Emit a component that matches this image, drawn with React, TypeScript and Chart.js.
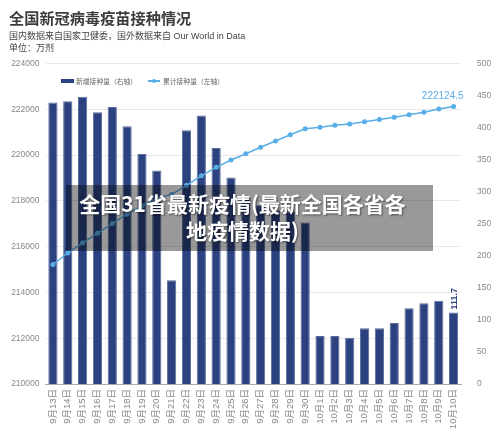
import React, { useEffect, useRef } from "react";
import { Chart, registerables } from "chart.js";

Chart.register(...registerables);

const categories = [
  "9月13日", "9月14日", "9月15日", "9月16日", "9月17日", "9月18日", "9月19日",
  "9月20日", "9月21日", "9月22日", "9月23日", "9月24日", "9月25日", "9月26日",
  "9月27日", "9月28日", "9月29日", "9月30日", "10月1日", "10月2日", "10月3日",
  "10月4日", "10月5日", "10月6日", "10月7日", "10月8日", "10月9日", "10月10日",
];

// 新增接种量（右轴），万剂
const newDoses = [
  439, 441, 448, 424, 432, 402, 359, 333, 162, 396, 419, 368, 322, 292,
  279, 271, 269, 252, 75, 75, 72, 87, 87, 95, 118, 126, 130, 111.7,
];

// 累计接种量（左轴），万剂
const cumulative = [
  215220, 215721, 216169, 216580, 217010, 217420, 217786, 218119, 218281,
  218672, 219096, 219464, 219786, 220060, 220341, 220614, 220885, 221150,
  221215, 221300, 221360, 221460, 221550, 221650, 221760, 221875, 222013, 222124.5,
];

const leftTicks = { min: 210000, max: 224000, step: 2000 };
const rightTicks = { min: 0, max: 500, step: 50 };

const NAVY = "#2c4180";
const BLUE = "#5aaee8";
const TICK_FONT = "'Liberation Sans', 'Noto Sans CJK SC', sans-serif";
const CJK = "'Noto Sans CJK SC', 'Liberation Sans', sans-serif";
const SUB_FONT = "'Liberation Sans', 'Noto Sans CJK SC', sans-serif";

const labelPlugin = {
  id: "valueLabels",
  afterDatasetsDraw(chart: any) {
    const ctx = chart.ctx;
    const lineMeta = chart.getDatasetMeta(1);
    const barMeta = chart.getDatasetMeta(0);
    const li = cumulative.length - 1;
    const pt = lineMeta.data[li];
    ctx.save();
    ctx.font = `10px ${TICK_FONT}`;
    ctx.fillStyle = BLUE;
    ctx.textAlign = "right";
    ctx.textBaseline = "middle";
    ctx.fillText(String(cumulative[li]), pt.x + 10, pt.y - 10);
    const bi = newDoses.length - 1;
    const bar = barMeta.data[bi];
    ctx.translate(bar.x + 0.5, bar.y - 3);
    ctx.rotate(-Math.PI / 2);
    ctx.font = `bold 9px ${TICK_FONT}`;
    ctx.fillStyle = NAVY;
    ctx.textAlign = "left";
    ctx.textBaseline = "middle";
    ctx.fillText(String(newDoses[bi]), 0, 0);
    ctx.restore();
  },
};

function ChartCanvas() {
  const ref = useRef<HTMLCanvasElement | null>(null);
  useEffect(() => {
    if (!ref.current) return;
    const chart = new Chart(ref.current, {
      type: "bar",
      data: {
        labels: categories,
        datasets: [
          {
            type: "bar",
            label: "新增接种量（右轴）",
            data: newDoses,
            yAxisID: "yR",
            backgroundColor: NAVY,
            borderColor: "#5b6c9c",
            borderWidth: 1,
            barPercentage: 0.62,
            categoryPercentage: 1,
            order: 2,
          } as any,
          {
            type: "line",
            label: "累计接种量（左轴）",
            data: cumulative,
            yAxisID: "yL",
            borderColor: BLUE,
            backgroundColor: BLUE,
            borderWidth: 1.5,
            pointRadius: 2.5,
            pointBackgroundColor: BLUE,
            pointBorderWidth: 0,
            tension: 0,
            order: 1,
          } as any,
        ],
      },
      options: {
        animation: false,
        responsive: false,
        maintainAspectRatio: false,
        layout: { padding: { top: 63.5, left: 0, right: 0, bottom: 0 } },
        plugins: {
          legend: { display: false },
          tooltip: { enabled: false },
        },
        scales: {
          x: {
            offset: true,
            grid: { display: false, drawTicks: false },
            border: { display: true, color: "#aaaaaa", width: 1 },
            ticks: {
              autoSkip: false,
              minRotation: 90,
              maxRotation: 90,
              padding: 5,
              color: "#888888",
              font: { size: 9.5, family: TICK_FONT },
            },
            afterFit: (s: any) => {
              s.height = 53;
            },
          },
          yL: {
            position: "left",
            min: leftTicks.min,
            max: leftTicks.max,
            ticks: {
              stepSize: leftTicks.step,
              padding: 6,
              color: "#888888",
              font: { size: 8.5, family: TICK_FONT },
              callback: (v: any) => String(v),
            },
            grid: { color: "#e9e9e9", lineWidth: 1, drawTicks: false },
            border: { display: false },
            afterFit: (s: any) => {
              s.width = 45.5;
            },
          },
          yR: {
            position: "right",
            min: rightTicks.min,
            max: rightTicks.max,
            ticks: {
              stepSize: rightTicks.step,
              padding: 16,
              color: "#888888",
              font: { size: 8.5, family: TICK_FONT },
              callback: (v: any) => String(v),
            },
            grid: { display: false, drawTicks: false },
            border: { display: false },
            afterFit: (s: any) => {
              s.width = 39;
            },
          },
        },
      } as any,
      plugins: [labelPlugin],
    });
    return () => chart.destroy();
  }, []);
  return (
    <canvas
      ref={ref}
      width={500}
      height={437}
      style={{ position: "absolute", left: 0, top: 0, width: 500, height: 437 }}
    />
  );
}

export default function App() {
  return (
    <div
      style={{
        position: "fixed",
        left: 0,
        top: 0,
        width: 500,
        height: 437,
        background: "#ffffff",
        overflow: "hidden",
        fontFamily: CJK,
      }}
    >
      <ChartCanvas />
      <div
        style={{
          position: "absolute",
          left: 9,
          top: 7,
          fontSize: 15.2,
          fontWeight: 700,
          color: "#3c3c3c",
          lineHeight: "20px",
          whiteSpace: "nowrap",
        }}
      >
        全国新冠病毒疫苗接种情况
      </div>
      <div
        style={{
          position: "absolute",
          left: 9,
          top: 31,
          fontSize: 9,
          color: "#444444",
          lineHeight: "11.5px",
          whiteSpace: "nowrap",
          fontFamily: SUB_FONT,
        }}
      >
        国内数据来自国家卫健委，国外数据来自 Our World in Data
        <br />
        单位：万剂
      </div>
      {/* legend */}
      <div style={{ position: "absolute", left: 61, top: 78.5, width: 12.5, height: 4.5, background: NAVY }} />
      <div
        style={{
          position: "absolute",
          left: 76,
          top: 75.5,
          fontSize: 6.8,
          lineHeight: "10px",
          color: "#666666",
          whiteSpace: "nowrap",
        }}
      >
        新增接种量（右轴）
      </div>
      <div style={{ position: "absolute", left: 148, top: 80, width: 12, height: 1.5, background: BLUE }} />
      <div
        style={{
          position: "absolute",
          left: 152,
          top: 78.7,
          width: 4,
          height: 4,
          borderRadius: 2,
          background: BLUE,
        }}
      />
      <div
        style={{
          position: "absolute",
          left: 163,
          top: 75.5,
          fontSize: 6.8,
          lineHeight: "10px",
          color: "#666666",
          whiteSpace: "nowrap",
        }}
      >
        累计接种量（左轴）
      </div>
      {/* overlay banner */}
      <div
        style={{
          position: "absolute",
          left: 66,
          top: 185,
          width: 367,
          height: 66,
          background: "rgba(0,0,0,0.4)",
          color: "#ffffff",
          fontWeight: 700,
          fontSize: 21,
          lineHeight: "27px",
          textAlign: "center",
          paddingTop: 5,
          paddingRight: 14,
          boxSizing: "border-box",
          textShadow: "1px 1px 2px rgba(0,0,0,0.5)",
          whiteSpace: "nowrap",
        }}
      >
        全国31省最新疫情(最新全国各省各
        <br />
        地疫情数据)
      </div>
    </div>
  );
}
